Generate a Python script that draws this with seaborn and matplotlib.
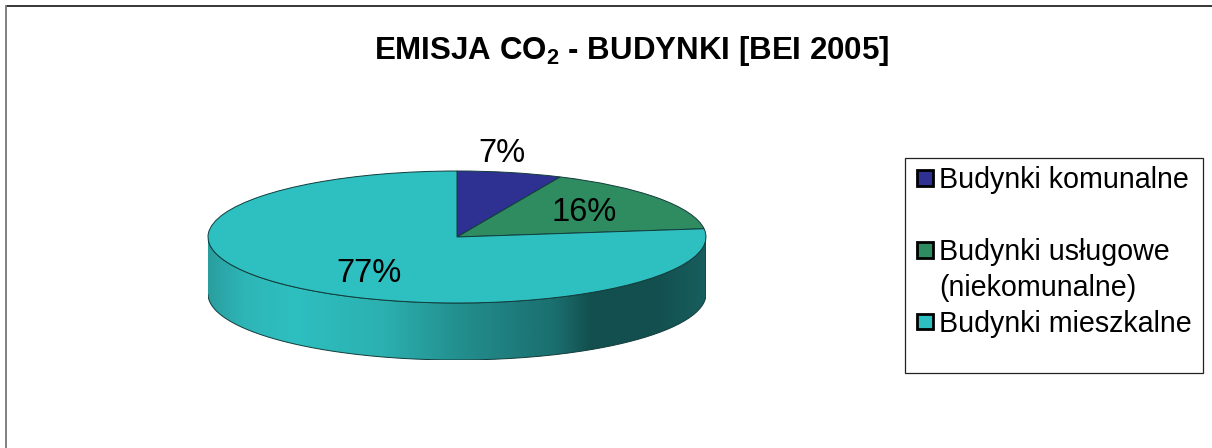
import numpy as np
import seaborn as sns
import matplotlib.pyplot as plt
from matplotlib.colors import LinearSegmentedColormap
from matplotlib.patches import PathPatch, Rectangle
from matplotlib.path import Path

categories = ["Budynki komunalne", "Budynki usługowe\n(niekomunalne)", "Budynki mieszkalne"]
shares = [6.8, 16.2, 77]
slice_colors = ["#2E3092", "#2E8C60", "#2EBFC0"]
title = "EMISJA CO$_2$ - BUDYNKI [BEI 2005]"

W, H = 1212, 448

sns.set_theme(style="white")
plt.rcParams["font.family"] = ["Liberation Sans", "DejaVu Sans"]
plt.rcParams["mathtext.default"] = "regular"
plt.rcParams["text.color"] = "black"
palette = sns.color_palette(slice_colors)

fig = plt.figure(figsize=(W / 100, H / 100), dpi=100, facecolor="white")


def fx(x):
    return x / W


def fy(y):
    return 1 - y / H


# top ellipse spans 208-706 by 171-303 px, wall hangs 57 px below that
depth = 57 / 66
left, right, top, bottom = 208, 706, 171, 360
ax = fig.add_axes([fx(left), fy(bottom), (right - left) / W, (bottom - top) / H])

wedges, _, pct = ax.pie(
    shares,
    colors=palette,
    startangle=90,
    counterclock=False,
    autopct="%.0f%%",
    radius=1,
    wedgeprops={"edgecolor": "#123c3c", "linewidth": 0.7, "zorder": 3},
    textprops={"fontsize": 23.5, "color": "black", "zorder": 4},
)
ax.set_aspect("auto")
ax.set_xlim(-1, 1)
ax.set_ylim(-1 - depth, 1)
ax.axis("off")

# side wall of the disc, gradient clipped to the lower half of the ellipse
t = np.linspace(np.pi, 2 * np.pi, 200)
wall_x = np.r_[np.cos(t), np.cos(t[::-1])]
wall_y = np.r_[np.sin(t) - depth, np.sin(t[::-1])]
wall = PathPatch(Path(np.c_[wall_x, wall_y]), facecolor="none", edgecolor="#123c3c",
                 linewidth=0.7, zorder=2)
ax.add_patch(wall)
cmap = LinearSegmentedColormap.from_list(
    "wall",
    [(0, "#2A9E9F"), (0.07, "#2EB5B6"), (0.17, "#2EBFC0"), (0.35, "#2CB0B0"),
     (0.5, "#23908F"), (0.7, "#1B6E6E"), (0.77, "#124F4E"), (0.9, "#124F4E"),
     (1, "#185E5E")],
)
img = ax.imshow(np.linspace(0, 1, 500)[None, :], cmap=cmap, aspect="auto",
                extent=[-1, 1, -1 - depth, 1], zorder=1)
img.set_clip_path(wall)
ax.set_xlim(-1, 1)
ax.set_ylim(-1 - depth, 1)

for txt, (x, y) in zip(pct, [(502, 153), (584, 212), (369, 273)]):
    txt.set_transform(fig.transFigure)
    txt.set_position((fx(x), fy(y)))
    txt.set_ha("center")
    txt.set_va("center")
    txt.set_clip_on(False)

fig.text(fx(632), fy(51), title, fontsize=22.5, fontweight="bold", color="black",
         ha="center", va="center")

# chart frame: only the top and left edges show in the crop
fig.add_artist(plt.Line2D([fx(6), fx(W)], [fy(6), fy(6)], color="black", linewidth=1.1))
fig.add_artist(plt.Line2D([fx(6), fx(6)], [fy(6), 0], color="#808080", linewidth=1.4))

# legend box with its uneven row spacing
fig.add_artist(Rectangle((fx(904.5), fy(373)), 298 / W, 215 / H, transform=fig.transFigure,
                         facecolor="white", edgecolor="#222222", linewidth=0.9))
for label, color, y in zip(categories, palette, [178.5, 250, 321.5]):
    fig.add_artist(Rectangle((fx(917), fy(y + 7.5)), 15.5 / W, 15.5 / H, transform=fig.transFigure,
                             facecolor=color, edgecolor="black", linewidth=2))
    fig.text(fx(939), fy(y - 12), label, fontsize=20.6, color="black", ha="left", va="top",
             linespacing=1.38)

fig.savefig("out.png", dpi=100)
